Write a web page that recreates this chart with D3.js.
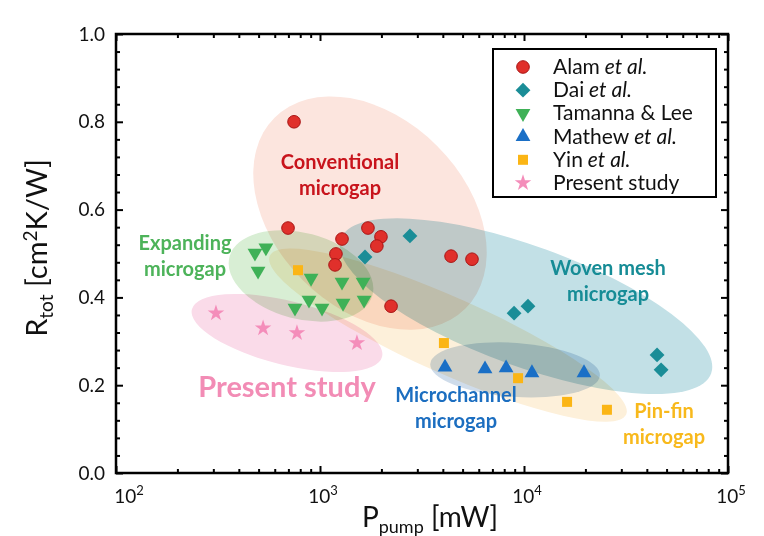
<!DOCTYPE html>
<html>
<head>
<meta charset="utf-8">
<script src="https://cdn.jsdelivr.net/npm/d3@7"></script>
<style>
  body { margin: 0; background: #fff; }
  svg { font-family: Lato, "Open Sans", sans-serif; }
</style>
</head>
<body>
<svg id="chart" width="764" height="536"></svg>
<script>
// data: pumping power [mW] vs total resistance [cm2K/W]
const alamP = [746, 697, 1282, 1197, 1185, 1718, 1990, 1900, 2230, 4390, 5560];
const alamR = [0.800, 0.558, 0.533, 0.499, 0.474, 0.558, 0.538, 0.517, 0.380, 0.494, 0.487];

const daiP = [1662, 2760, 8940, 10460, 44900, 47000];
const daiR = [0.492, 0.540, 0.364, 0.380, 0.269, 0.235];

const tamannaP = [480, 543, 497, 904, 1282, 1626, 754, 883, 1023, 1297, 1644];
const tamannaR = [0.501, 0.513, 0.460, 0.444, 0.435, 0.435, 0.376, 0.394, 0.376, 0.387, 0.394];

const mathewP = [4100, 6440, 8170, 10940, 19680];
const mathewR = [0.241, 0.237, 0.239, 0.228, 0.228];

const yinP = [780, 4050, 9350, 16260, 25500];
const yinR = [0.462, 0.296, 0.216, 0.162, 0.144];

const presentP = [309, 526, 771, 1517];
const presentR = [0.364, 0.330, 0.319, 0.296];

const seriesNames = ['Alam', 'Dai', 'Tamanna & Lee', 'Mathew', 'Yin', 'Present study'];

const yTicks = [0, 0.2, 0.4, 0.6, 0.8, 1.0];
const xTicks = [100, 1000, 10000, 100000];
const xTickExp = ['2', '3', '4', '5'];

// shaded regions: centre of each one (in data units)
const regionNames = ['Conventional', 'Expanding', 'Present', 'Pin-fin', 'Woven', 'Microchannel'];
const regionP = [1758, 807, 689, 4240, 10230, 9040];
const regionR = [0.592, 0.449, 0.319, 0.314, 0.380, 0.235];

const svg = d3.select('#chart');
const mLeft = 116, mRight = 728, mTop = 34, mBottom = 473;

const x = d3.scaleLog().domain([100, 100000]).range([mLeft, mRight]);
const y = d3.scaleLinear().domain([0, 1]).range([mBottom, mTop]);

// region shapes (pixel radii, rotation in degrees)
const regionStyle = {
  'Conventional': { rx: 135, ry: 95, rot: 45, fill: '#fce5de' },
  'Expanding':    { rx: 74, ry: 43, rot: 15, fill: '#d8eed4' },
  'Present':      { rx: 98, ry: 32, rot: 14, fill: '#fadbe9' },
  'Pin-fin':      { rx: 195, ry: 38, rot: 24, fill: '#fdf0da' },
  'Woven':        { rx: 197, ry: 60, rot: 20, fill: '#c2e0e6' },
  'Microchannel': { rx: 85, ry: 27, rot: 4, fill: '#cfdcea' }
};

const regions = svg.append('g');
regionNames.forEach((name, i) => {
  const s = regionStyle[name];
  regions.append('ellipse')
    .attr('transform', `translate(${x(regionP[i])},${y(regionR[i])}) rotate(${s.rot})`)
    .attr('rx', s.rx)
    .attr('ry', s.ry)
    .attr('fill', s.fill)
    .style('mix-blend-mode', 'multiply');
});

// region labels
const notes = [
  { lines: ['Conventional', 'microgap'], cx: 340, cy: 169, color: '#c8141c', size: 20 },
  { lines: ['Expanding', 'microgap'], cx: 185, cy: 250, color: '#4db35a', size: 20 },
  { lines: ['Present study'], cx: 287, cy: 397, color: '#f28cb5', size: 29 },
  { lines: ['Woven mesh', 'microgap'], cx: 608, cy: 275, color: '#168c96', size: 20 },
  { lines: ['Microchannel', 'microgap'], cx: 456, cy: 402, color: '#1c6ec0', size: 20 },
  { lines: ['Pin-fin', 'microgap'], cx: 664, cy: 418, color: '#f8b91c', size: 20 }
];
notes.forEach(n => {
  const t = svg.append('text')
    .attr('text-anchor', 'middle')
    .attr('font-weight', 'bold')
    .attr('font-size', n.size)
    .attr('fill', n.color);
  n.lines.forEach((l, j) => {
    t.append('tspan').attr('x', n.cx).attr('y', n.cy + j * 25.5).text(l);
  });
});

// markers
const markerDefs = [
  { P: alamP, R: alamR, type: d3.symbolCircle, size: 125, fill: '#e0302b', stroke: '#a81414', rot: 0 },
  { P: daiP, R: daiR, type: d3.symbolSquare, size: 110, fill: '#1a8d97', stroke: 'none', rot: 45 },
  { P: tamannaP, R: tamannaR, type: d3.symbolTriangle, size: 95, fill: '#3fb157', stroke: 'none', rot: 180 },
  { P: mathewP, R: mathewR, type: d3.symbolTriangle, size: 95, fill: '#1a6fc6', stroke: 'none', rot: 0 },
  { P: yinP, R: yinR, type: d3.symbolSquare, size: 100, fill: '#fbb515', stroke: 'none', rot: 0 },
  { P: presentP, R: presentR, type: d3.symbolStar, size: 85, fill: '#f48dba', stroke: 'none', rot: 0 }
];

const marks = svg.append('g');
markerDefs.forEach(m => {
  const sym = d3.symbol().type(m.type).size(m.size);
  marks.selectAll(null)
    .data(m.P.map((p, i) => [p, m.R[i]]))
    .enter()
    .append('path')
    .attr('d', sym)
    .attr('transform', d => `translate(${x(d[0])},${y(d[1])}) rotate(${m.rot})`)
    .attr('fill', m.fill)
    .attr('stroke', m.stroke)
    .attr('stroke-width', 1);
});

// axes: ticks on all four sides, pointing inward
const minorX = [];
for (let e = 2; e < 5; e++) for (let k = 2; k <= 9; k++) minorX.push(k * Math.pow(10, e));
const minorY = d3.range(0, 1.001, 0.04).filter(v => Math.abs(v * 5 - Math.round(v * 5)) > 0.01);

const axisG = svg.append('g');
function tickAxis(axis, transform) {
  const g = axisG.append('g').attr('transform', transform).call(axis);
  g.select('.domain').remove();
  g.selectAll('line').attr('stroke', '#000').attr('stroke-width', 2);
  return g;
}
tickAxis(d3.axisBottom(x).tickValues(xTicks).tickSize(-7).tickFormat(''), `translate(0,${mBottom})`);
tickAxis(d3.axisBottom(x).tickValues(minorX).tickSize(-4).tickFormat(''), `translate(0,${mBottom})`);
tickAxis(d3.axisTop(x).tickValues(xTicks).tickSize(-7).tickFormat(''), `translate(0,${mTop})`);
tickAxis(d3.axisTop(x).tickValues(minorX).tickSize(-4).tickFormat(''), `translate(0,${mTop})`);
tickAxis(d3.axisRight(y).tickValues(yTicks).tickSize(-7).tickFormat(''), `translate(${mRight},0)`);
tickAxis(d3.axisRight(y).tickValues(minorY).tickSize(-4).tickFormat(''), `translate(${mRight},0)`);
tickAxis(d3.axisLeft(y).tickValues(minorY).tickSize(-4).tickFormat(''), `translate(${mLeft},0)`);
const yAxis = tickAxis(d3.axisLeft(y).tickValues(yTicks).tickSize(-7).tickPadding(11).tickFormat(d3.format('.1f')), `translate(${mLeft},0)`);
yAxis.selectAll('text').attr('font-size', 19).attr('fill', '#111').attr('font-family', 'Lato, sans-serif');

svg.append('rect')
  .attr('x', mLeft).attr('y', mTop)
  .attr('width', mRight - mLeft).attr('height', mBottom - mTop)
  .attr('fill', 'none').attr('stroke', '#000').attr('stroke-width', 2.5);

// x tick labels with superscript exponents
xTicks.forEach((v, i) => {
  const t = svg.append('text')
    .attr('x', x(v) + (i === 0 ? 13 : 3))
    .attr('y', 503)
    .attr('text-anchor', 'middle')
    .attr('font-size', 19)
    .attr('fill', '#111');
  t.append('tspan').text('10');
  t.append('tspan').attr('font-size', 13).attr('dy', -8).text(xTickExp[i]);
});

// axis titles
const xt = svg.append('text')
  .attr('x', 430).attr('y', 527)
  .attr('text-anchor', 'middle')
  .attr('font-size', 28)
  .attr('fill', '#111');
xt.append('tspan').text('P');
xt.append('tspan').attr('font-size', 18).attr('dy', 6).text('pump');
xt.append('tspan').attr('dy', -6).text(' [mW]');

const yt = svg.append('text')
  .attr('transform', 'translate(47,248) rotate(-90)')
  .attr('text-anchor', 'middle')
  .attr('font-size', 29)
  .attr('fill', '#111');
yt.append('tspan').text('R');
yt.append('tspan').attr('font-size', 19).attr('dy', 6).text('tot');
yt.append('tspan').attr('dy', -6).text(' [cm');
yt.append('tspan').attr('font-size', 19).attr('dy', -10).text('2');
yt.append('tspan').attr('dy', 10).text('K/W]');

// legend
const legend = svg.append('g');
legend.append('rect')
  .attr('x', 493).attr('y', 49).attr('width', 223).attr('height', 148)
  .attr('fill', '#fff').attr('stroke', '#000').attr('stroke-width', 2);
const legendItalic = [' et al.', ' et al.', '', ' et al.', ' et al.', ''];
seriesNames.forEach((name, i) => {
  const m = markerDefs[i];
  const cy = 67 + i * 23.2;
  legend.append('path')
    .attr('d', d3.symbol().type(m.type).size(m.size)())
    .attr('transform', `translate(523,${cy}) rotate(${m.rot})`)
    .attr('fill', m.fill)
    .attr('stroke', m.stroke)
    .attr('stroke-width', 1);
  const t = legend.append('text')
    .attr('x', 553).attr('y', cy + 7)
    .attr('font-size', 21)
    .attr('fill', '#111');
  t.append('tspan').text(name);
  if (legendItalic[i]) t.append('tspan').attr('font-style', 'italic').text(legendItalic[i]);
});
</script>
</body>
</html>
